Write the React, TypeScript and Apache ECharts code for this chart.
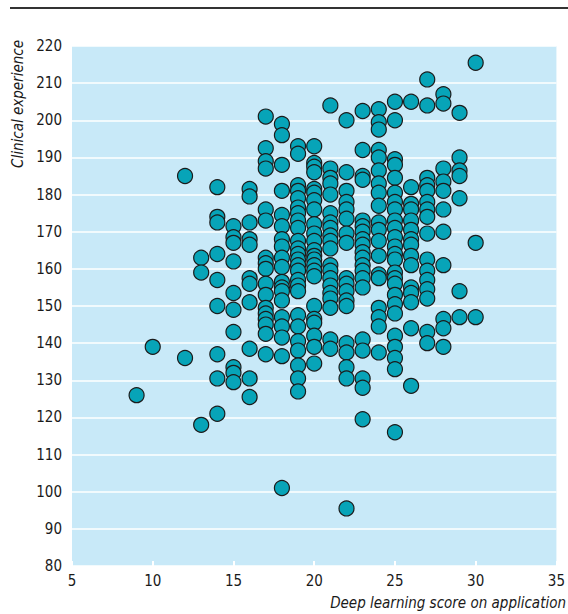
import React, { useEffect, useRef } from "react";
import * as echarts from "echarts";

// Deep learning score on application (x) for each column of points
const scores = [9, 10, 12, 13, 14, 15, 16, 17, 18, 19, 20, 21, 22, 23, 24, 25, 26, 27, 28, 29, 30];

// Clinical experience values (y) for each score above
const experience: number[][] = [
  [126],
  [139],
  [185, 136],
  [163, 159, 118],
  [182, 174, 172.5, 164, 157, 150, 137, 130.5, 121],
  [171.5, 168.5, 167, 162, 153.5, 149, 143, 133.5, 132, 129.5],
  [181.5, 179.5, 172.5, 168, 166.5, 157.5, 156, 151, 138.5, 130.5, 125.5],
  [201, 192.5, 189, 187, 176, 173, 163, 161.5, 160, 156, 153, 149.5, 148, 146.5, 145, 142.5, 137],
  [199, 196, 188, 181, 174.5, 171.5, 168, 166, 163, 160.5, 156.5, 155, 154, 151.5, 147, 144.5, 141.5, 136.5, 101],
  [193, 191, 182.5, 181, 179, 176.5, 175, 173, 171, 167.5, 165.5, 164, 162.5, 161, 159.5, 157, 155.5, 154, 147.5, 144.5, 140.5, 138, 134, 130.5, 127],
  [193, 188.5, 187.5, 186, 181.5, 180.5, 178.5, 176, 172, 169.5, 167.5, 165, 163.5, 162.5, 161, 159.5, 158, 150, 146.5, 145.5, 142, 139, 134.5],
  [204, 187, 184.5, 183, 180, 175, 172.5, 171, 169, 167.5, 165.5, 161, 159.5, 157.5, 155.5, 153.5, 152, 149.5, 141, 138.5],
  [200, 186, 181, 178, 176, 173.5, 169.5, 167, 157.5, 156, 154, 151.5, 150, 140, 137.5, 133.5, 130.5, 95.5],
  [202.5, 192, 185, 184, 173, 171.5, 170, 168, 166.5, 164.5, 163, 161, 159.5, 157.5, 155, 141, 138, 130.5, 128, 119.5],
  [203, 199.5, 197.5, 192, 190, 186.5, 183, 180.5, 177, 172.5, 170.5, 167.5, 163.5, 158.5, 157.5, 149.5, 147, 144.5, 137.5],
  [205, 200, 189.5, 188, 184.5, 180.5, 178, 176, 173, 171, 168.5, 166, 164, 162.5, 159, 157.5, 156, 153, 150.5, 148, 142, 139, 136, 133, 116],
  [205, 182, 177.5, 176, 173, 170.5, 168, 166.5, 163.5, 161, 155, 153.5, 151, 144, 128.5],
  [211, 204, 184.5, 182.5, 181, 178, 176, 174, 169.5, 162.5, 159.5, 157, 154.5, 152, 143, 140],
  [207, 204.5, 187, 183.5, 181, 176, 170, 161, 146.5, 144, 139],
  [202, 190, 186.5, 185, 179, 154, 147],
  [215.5, 167, 147],
];

const xTitle = "Deep learning score on application";
const yTitle = "Clinical experience";

const FONT = "'Liberation Sans Narrow', 'Arial Narrow', 'DejaVu Sans Condensed', sans-serif";

export default function App() {
  const ref = useRef<HTMLDivElement>(null);

  useEffect(() => {
    document.body.style.margin = "0";
    if (!ref.current) return;
    const chart = echarts.init(ref.current, null, { renderer: "svg" });

    const points: number[][] = [];
    scores.forEach((s, i) => {
      experience[i].forEach((v) => points.push([s, v]));
    });

    chart.setOption({
      animation: false,
      backgroundColor: "#ffffff",
      grid: {
        left: 72,
        right: 10,
        top: 46,
        bottom: 48,
        show: true,
        backgroundColor: "#c8e9f8",
        borderWidth: 0,
      },
      xAxis: {
        type: "value",
        min: 5,
        max: 35,
        interval: 5,
        axisLine: { show: false },
        axisTick: { show: true, inside: true, length: 5, lineStyle: { color: "#ffffff", width: 2 } },
        splitLine: { show: false },
        axisLabel: { color: "#1a1a1a", fontSize: 15, fontFamily: FONT, margin: 7 },
      },
      yAxis: {
        type: "value",
        min: 80,
        max: 220,
        interval: 10,
        axisLine: { show: false },
        axisTick: { show: false },
        splitLine: { show: true, lineStyle: { color: "#ffffff", width: 1.5 } },
        axisLabel: { color: "#1a1a1a", fontSize: 15, fontFamily: FONT, margin: 10 },
      },
      graphic: [
        {
          type: "line",
          shape: { x1: 10, y1: 8, x2: 568, y2: 8 },
          style: { stroke: "#333333", lineWidth: 2 },
        },
        {
          type: "text",
          x: 566,
          y: 603,
          style: {
            text: xTitle,
            font: `italic 15px ${FONT}`,
            fill: "#1a1a1a",
            align: "right",
            verticalAlign: "middle",
          },
        },
        {
          type: "text",
          x: 18,
          y: 40,
          rotation: Math.PI / 2,
          style: {
            text: yTitle,
            font: `italic 15px ${FONT}`,
            fill: "#1a1a1a",
            align: "right",
            verticalAlign: "middle",
          },
        },
      ],
      series: [
        {
          type: "scatter",
          data: points,
          symbol: "circle",
          symbolSize: 15,
          itemStyle: { color: "#07a4b8", borderColor: "#1b1b1b", borderWidth: 1.2, opacity: 1 },
        },
      ],
    });

    return () => chart.dispose();
  }, []);

  return <div ref={ref} style={{ width: 568, height: 614 }} />;
}
